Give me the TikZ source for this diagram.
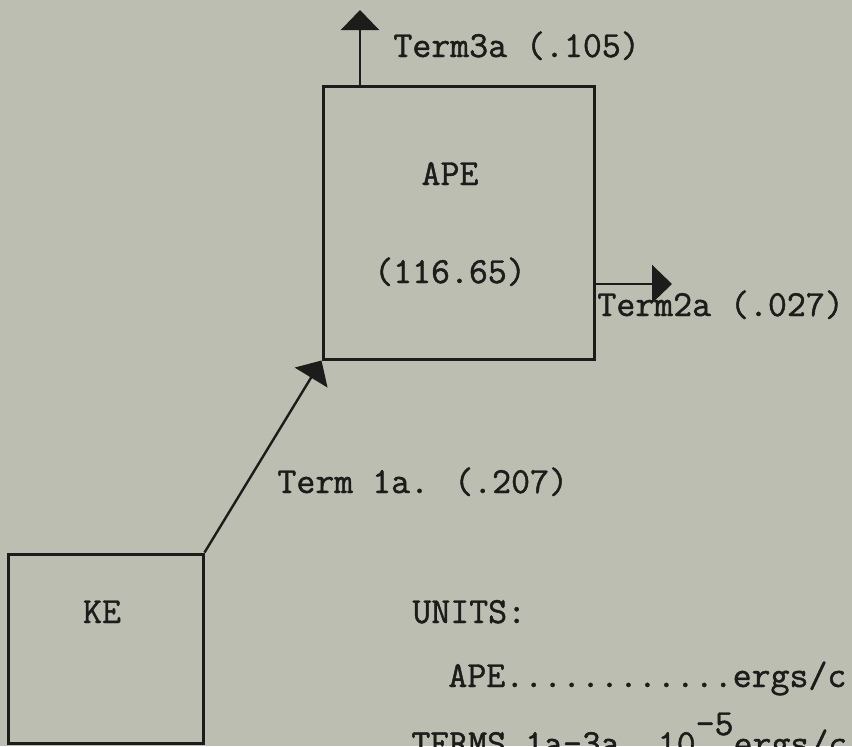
\documentclass[tikz,border=0pt]{standalone}
\usepackage{fontspec}
\usepackage{tikz}
\usetikzlibrary{arrows.meta}
\newfontfamily\typer{Latin Modern Mono}[FakeBold=1.2]
\definecolor{paper}{RGB}{188,190,177}
\definecolor{ink}{RGB}{28,28,26}

\begin{document}
\begin{tikzpicture}[
  x=0.5pt, y=-0.5pt,
  box/.style={rectangle, draw=ink, line width=1.5pt, inner sep=0pt},
  flow/.style={-{Triangle[length=10pt, width=19pt]}, color=ink, line width=1.2pt},
  lbl/.style={font=\typer\fontsize{18.4}{22}\selectfont, text=ink, inner sep=0pt}
]

% sheet
\fill[paper] (0,0) rectangle (852,746);
\useasboundingbox (0,0) rectangle (852,746);

% energy reservoirs
\node[box, minimum width=135.5pt, minimum height=136.5pt] (ape) at (458.5,222.5) {};
\node[box, minimum width=97.5pt, minimum height=94.5pt] (ke) at (105.5,648.5) {};
\node[lbl, anchor=base] (apename) at (450,185) {APE};
\node[lbl, anchor=base] (apeval) at (450,283) {(116.65)};
\node[lbl, anchor=base] (kename) at (102,623) {KE};

% conversion terms
\coordinate (t3tip) at (360,10);
\coordinate (t2tip) at (672,284);
\draw[flow] (t3tip |- ape.north) -- (t3tip);
\draw[flow] (ape.east |- t2tip) -- (t2tip);
\draw[flow] (ke.north east) -- (ape.south west);
\node[lbl, anchor=base west] (t3) at (393,57) {Term3a (.105)};
\node[lbl, anchor=base west] (t2) at (597,316) {Term2a (.027)};
\node[lbl, anchor=base west] (t1) at (277,493) {Term 1a. (.207)};

% units
\node[lbl, anchor=base west] (units) at (412,623) {UNITS:};
\node[lbl, anchor=base west] (apeunit) at (448,687) {APE............ergs/c};
\node[lbl, anchor=base west] (termunit) at (411,755)
  {TERMS 1a-3a\ \ 10\raisebox{10pt}{-5}ergs/c};

\end{tikzpicture}
\end{document}
